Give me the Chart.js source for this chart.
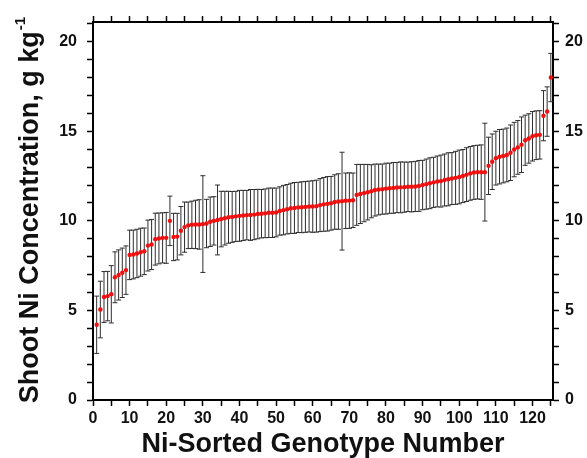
<!DOCTYPE html>
<html>
<head>
<meta charset="utf-8">
<script src="https://cdn.jsdelivr.net/npm/chart.js@4.4.1/dist/chart.umd.min.js"></script>
<style>
  html, body { margin: 0; padding: 0; background: #fff; }
  #wrap { width: 587px; height: 458px; }
</style>
</head>
<body>
<div id="wrap"><canvas id="chart"></canvas></div>
<script>
// genotype number (x), mean shoot Ni (g/kg) and error bar half-width
const genotype = [
  1, 2, 3, 4, 5, 6, 7, 8, 9, 10, 11, 12, 13, 14, 15, 16, 17, 18, 19, 20,
  21, 22, 23, 24, 25, 26, 27, 28, 29, 30, 31, 32, 33, 34, 35, 36, 37, 38, 39, 40,
  41, 42, 43, 44, 45, 46, 47, 48, 49, 50, 51, 52, 53, 54, 55, 56, 57, 58, 59, 60,
  61, 62, 63, 64, 65, 66, 67, 68, 69, 70, 71, 72, 73, 74, 75, 76, 77, 78, 79, 80,
  81, 82, 83, 84, 85, 86, 87, 88, 89, 90, 91, 92, 93, 94, 95, 96, 97, 98, 99, 100,
  101, 102, 103, 104, 105, 106, 107, 108, 109, 110, 111, 112, 113, 114, 115, 116, 117, 118, 119, 120,
  121, 122, 123, 124, 125
];
const shootNi = [
  4.2, 5.05, 5.75, 5.8, 5.9, 6.85, 6.98, 7.1, 7.25, 8.1,
  8.12, 8.18, 8.25, 8.3, 8.62, 8.68, 8.98, 9.02, 9.05, 9.05,
  10.0, 9.1, 9.12, 9.45, 9.65, 9.75, 9.78, 9.8, 9.8, 9.82,
  9.85, 9.95, 10.0, 10.05, 10.1, 10.15, 10.2, 10.22, 10.25, 10.28,
  10.3, 10.32, 10.33, 10.35, 10.38, 10.4, 10.42, 10.45, 10.45, 10.47,
  10.55, 10.6, 10.65, 10.7, 10.72, 10.75, 10.76, 10.78, 10.8, 10.8,
  10.82, 10.88, 10.92, 10.95, 10.98, 11.05, 11.08, 11.1, 11.12, 11.13,
  11.15, 11.45, 11.5, 11.55, 11.6, 11.65, 11.72, 11.75, 11.77, 11.8,
  11.82, 11.84, 11.86, 11.87, 11.88, 11.9, 11.9, 11.92, 11.95, 12.0,
  12.05, 12.1, 12.15, 12.2, 12.22, 12.28, 12.32, 12.36, 12.4, 12.45,
  12.5, 12.58, 12.65, 12.7, 12.72, 12.72, 12.72, 13.07, 13.3, 13.5,
  13.58, 13.62, 13.68, 13.8, 13.98, 14.1, 14.25, 14.5, 14.6, 14.72,
  14.78, 14.8, 15.87, 16.1, 18.0
];
const errorSd = [
  1.6, 1.58, 1.42, 1.38, 1.6, 1.42, 1.4, 1.38, 1.35, 1.38,
  1.36, 1.35, 1.34, 1.3, 1.42, 1.4, 1.45, 1.42, 1.4, 1.42,
  1.38, 1.32, 1.3, 1.35, 1.4, 1.3, 1.32, 1.35, 1.38, 2.7,
  1.35, 1.38, 1.35, 1.95, 1.55, 1.5, 1.45, 1.42, 1.4, 1.42,
  1.4, 1.38, 1.42, 1.4, 1.38, 1.35, 1.36, 1.38, 1.38, 1.36,
  1.35, 1.38, 1.38, 1.4, 1.42, 1.4, 1.42, 1.42, 1.42, 1.44,
  1.45, 1.48, 1.5, 1.52, 1.5, 1.52, 1.55, 2.73, 1.55, 1.55,
  1.52, 1.7, 1.65, 1.6, 1.55, 1.48, 1.45, 1.42, 1.4, 1.42,
  1.4, 1.42, 1.4, 1.42, 1.4, 1.38, 1.4, 1.4, 1.42, 1.38,
  1.4, 1.42, 1.4, 1.42, 1.45, 1.45, 1.48, 1.45, 1.48, 1.5,
  1.48, 1.5, 1.5, 1.5, 1.5, 1.52, 2.73, 1.6, 1.55, 1.5,
  1.52, 1.5, 1.5, 1.55, 1.52, 1.5, 1.55, 1.4, 1.38, 1.38,
  1.36, 1.35, 1.4, 1.38, 1.35
];

const xTitle = "Ni-Sorted Genotype Number";
const yTitle = "Shoot Ni Concentration, g kg";
const yTitleSup = "-1";

const FONT = "'Liberation Sans', Arial, sans-serif";

// draw the vertical error bars behind the red points
const errorBars = {
  id: "errorBars",
  beforeDatasetsDraw(chart) {
    const { ctx, scales: { x, y } } = chart;
    ctx.save();
    ctx.strokeStyle = "#2e2e2e";
    ctx.lineWidth = 1;
    genotype.forEach((g, i) => {
      const px = x.getPixelForValue(g);
      const top = y.getPixelForValue(shootNi[i] + errorSd[i]);
      const bot = y.getPixelForValue(shootNi[i] - errorSd[i]);
      ctx.beginPath();
      ctx.moveTo(px, top);
      ctx.lineTo(px, bot);
      ctx.moveTo(px - 2.5, top);
      ctx.lineTo(px + 2.5, top);
      ctx.moveTo(px - 2.5, bot);
      ctx.lineTo(px + 2.5, bot);
      ctx.stroke();
    });
    ctx.restore();
  },
};

// rotated y title with a raised "-1" exponent
const yTitlePlugin = {
  id: "yTitle",
  afterDraw(chart) {
    const ctx = chart.ctx;
    ctx.save();
    ctx.translate(31, 210);
    ctx.rotate(-Math.PI / 2);
    ctx.fillStyle = "#111";
    ctx.textBaseline = "middle";
    ctx.textAlign = "left";
    ctx.font = "bold 27px " + FONT;
    const w1 = ctx.measureText(yTitle).width;
    ctx.font = "bold 15px " + FONT;
    const w2 = ctx.measureText(yTitleSup).width;
    const start = -(w1 + w2 + 1) / 2;
    ctx.font = "bold 27px " + FONT;
    ctx.fillText(yTitle, start, 0);
    ctx.font = "bold 15px " + FONT;
    ctx.fillText(yTitleSup, start + w1 + 1, -10);
    ctx.restore();
  },
};

const border = { display: true, color: "#000", width: 2 };
const tickFont = { family: FONT, size: 16, weight: "bold" };

function xAxis(position, showLabels) {
  return {
    type: "linear",
    position: position,
    min: 0,
    max: 125.6,
    border: border,
    grid: { drawOnChartArea: false, drawTicks: true, tickLength: 6, tickWidth: 1.5, tickColor: "#000" },
    ticks: {
      stepSize: 5,
      includeBounds: false,
      autoSkip: false,
      maxRotation: 0,
      padding: 3,
      color: "#111",
      font: tickFont,
      callback: (v) => (showLabels && v % 10 === 0 ? v : ""),
    },
  };
}

function yAxis(position, padding) {
  return {
    type: "linear",
    position: position,
    min: 0,
    max: 21.1,
    border: border,
    grid: { drawOnChartArea: false, drawTicks: true, tickLength: 6, tickWidth: 1.5, tickColor: "#000" },
    ticks: {
      stepSize: 1,
      includeBounds: false,
      autoSkip: false,
      padding: padding,
      color: "#111",
      font: tickFont,
      callback: (v) => (v % 5 === 0 ? v : ""),
    },
  };
}

const scales = {
  x: xAxis("bottom", true),
  x2: xAxis("top", false),
  y: yAxis("left", 10),
  y2: yAxis("right", 6),
};
scales.x.title = {
  display: true,
  text: xTitle,
  color: "#111",
  font: { family: FONT, size: 27, weight: "bold", lineHeight: 1.0 },
  padding: { top: 0, bottom: 0 },
};
// pin the plot box to where it sits in the figure
scales.x.afterFit = (s) => { s.height = 58; };
scales.x2.afterFit = (s) => { s.height = 22; };
scales.y.afterFit = (s) => { s.width = 93; };
scales.y2.afterFit = (s) => { s.width = 34; };

const points = genotype.map((g, i) => ({ x: g, y: shootNi[i] }));

new Chart(document.getElementById("chart"), {
  type: "scatter",
  data: {
    datasets: [
      {
        data: points,
        pointRadius: 2.2,
        pointBorderWidth: 0,
        pointBackgroundColor: "#f01010",
        pointHoverRadius: 2.2,
      },
    ],
  },
  options: {
    responsive: true,
    maintainAspectRatio: false,
    animation: false,
    layout: { padding: 0 },
    scales: scales,
    plugins: {
      legend: { display: false },
      tooltip: { enabled: false },
    },
  },
  plugins: [errorBars, yTitlePlugin],
});
</script>
</body>
</html>
